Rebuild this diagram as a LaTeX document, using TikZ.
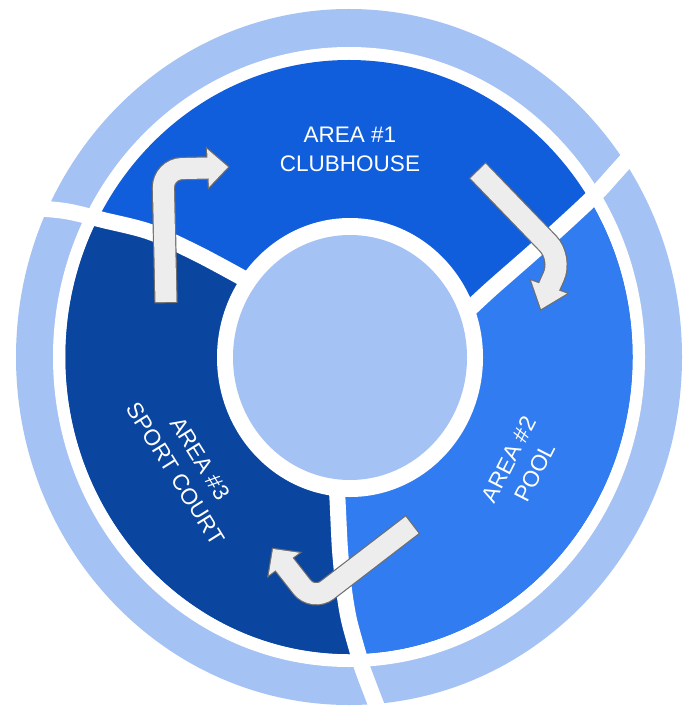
\documentclass[tikz,border=0pt]{standalone}
\usepackage{fontspec}
\setmainfont{Liberation Sans}
\usetikzlibrary{calc}
\definecolor{ringblue}{HTML}{A4C2F4}
\definecolor{areaone}{HTML}{115EDD}
\definecolor{areatwo}{HTML}{317CF0}
\definecolor{areathree}{HTML}{0A45A0}
\definecolor{arrowgray}{HTML}{EDEDED}
\definecolor{arrowedgec}{HTML}{6F6F6F}
\tikzset{
  divider/.style={draw=white, line width=16pt},
  lbl/.style={text=white, align=center, inner sep=0pt, font=\fontsize{22.5pt}{29pt}\selectfont},
  arrowout/.style={draw=arrowedgec, line cap=butt},
  arrowheadout/.style={fill=arrowedgec, draw=arrowedgec, line width=2.4pt},
  arrowin/.style={draw=arrowgray, line cap=butt},
  arrowheadin/.style={fill=arrowgray},
}
\newcommand\bentarrow[5]{%
  \draw[arrowout, line width=23.4pt, shorten <=-1.2pt, rounded corners=#5] (#1) -- (#2) -- (#3);
  \filldraw[arrowheadout] (#4) -- ($(#3)!19pt!90:(#4)$) -- ($(#3)!19pt!-90:(#4)$) -- cycle;
  \draw[arrowin, line width=21pt, shorten >=-4pt, rounded corners=#5] (#1) -- (#2) -- (#3);
  \fill[arrowheadin] (#4) -- ($(#3)!19pt!90:(#4)$) -- ($(#3)!19pt!-90:(#4)$) -- cycle;
}
\begin{document}
\begin{tikzpicture}[x=1pt,y=-1pt]
\useasboundingbox (0,0) rectangle (694,708);
\fill[white] (0,0) rectangle (694,708);
\coordinate (C) at (349,357);
\coordinate (Ci) at (350,357.5);
% rings
\fill[ringblue] (C) ellipse [x radius=333, y radius=348];
\fill[white] (C) ellipse [x radius=296, y radius=310];
\fill[areaone] (C) ellipse [x radius=283.5, y radius=297];
\begin{scope}
  \clip (C) ellipse [x radius=283.5, y radius=297];
  \fill[areathree] (0,207) -- plot[smooth] coordinates {(20,207) (65,211) (103,220) (150,232) (200,255) (250,282)}
    -- (C) -- plot[smooth] coordinates {(336,480) (337.5,500) (340,550) (344,590) (349,620) (358,653) (363,670) (377,707) (382,720)}
    -- (0,720) -- cycle;
  \fill[areatwo] (C) -- plot[smooth] coordinates {(460,318) (490,290) (540,246) (591,199) (615,173) (650,134)}
    -- (720,134) -- (720,720)
    -- plot[smooth] coordinates {(382,720) (377,707) (363,670) (358,653) (349,620) (344,590) (340,550) (337.5,500) (336,480)}
    -- cycle;
\end{scope}
% dividers
\draw[divider] plot[smooth] coordinates {(10,206) (20,207) (65,211) (103,220) (150,232) (200,255) (250,282)};
\draw[divider] plot[smooth] coordinates {(460,318) (490,290) (540,246) (591,199) (615,173) (650,134) (660,122)};
\draw[divider] plot[smooth] coordinates {(336,480) (337.5,500) (340,550) (344,590) (349,620) (358,653) (363,670) (377,707) (382,720)};
% centre
\fill[white] (Ci) ellipse [x radius=133, y radius=139.5];
\fill[ringblue] (Ci) ellipse [x radius=117, y radius=122.5];
% labels
\node[lbl] (a1) at (350,149) {AREA \#1\\CLUBHOUSE};
\node[lbl, rotate=63] (a2) at (522,466) {AREA \#2\\POOL};
\node[lbl, rotate=-58] (a3) at (188,466) {AREA \#3\\SPORT COURT};
% arrows
\coordinate (t1) at (166,302); \coordinate (c1) at (163,169); \coordinate (b1) at (208,168); \coordinate (p1) at (228,167);
\coordinate (t2) at (478,171); \coordinate (c2) at (562,258); \coordinate (b2) at (549,287); \coordinate (p2) at (541,309);
\coordinate (t3) at (412,525); \coordinate (c3) at (313,601); \coordinate (b3) at (284,564); \coordinate (p3) at (273,549);
\bentarrow{t1}{c1}{b1}{p1}{19pt}
\bentarrow{t2}{c2}{b2}{p2}{20pt}
\bentarrow{t3}{c3}{b3}{p3}{18pt}
\end{tikzpicture}
\end{document}
